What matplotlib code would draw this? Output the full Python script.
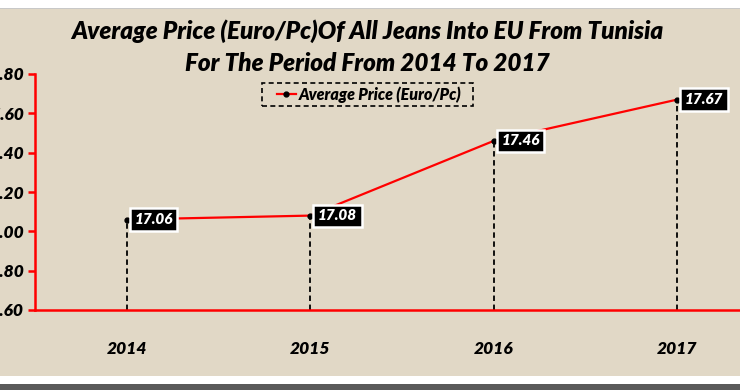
import matplotlib
matplotlib.use("Agg")
import matplotlib.pyplot as plt
from matplotlib.patches import Rectangle

years = ["2014", "2015", "2016", "2017"]
avg_price = [17.06, 17.08, 17.46, 17.67]
y_ticks = [16.60, 16.80, 17.00, 17.20, 17.40, 17.60, 17.80]
series_name = "Average Price (Euro/Pc)"
title = "Average Price (Euro/Pc)Of All Jeans Into EU From Tunisia\nFor The Period From 2014 To 2017"

FONT = ["Lato", "DejaVu Sans"]
plt.rcParams['font.family'] = FONT
WEIGHT = "heavy"

W, H = 740, 390
fig = plt.figure(figsize=(W / 100, H / 100), dpi=100)
fig.patch.set_facecolor("white")

# background panel
fig.add_artist(Rectangle((0, 1 - 376 / H), 1, (376 - 9) / H, transform=fig.transFigure,
                         facecolor="#e1d8c6", edgecolor="none", zorder=0))
fig.add_artist(Rectangle((0, 1 - 9 / H), 1, 1.2 / H, transform=fig.transFigure,
                         facecolor="#c8c8c8", edgecolor="none", zorder=0))
fig.add_artist(Rectangle((0, 0), 1, 6 / H, transform=fig.transFigure,
                         facecolor="#5a5a5a", edgecolor="none", zorder=0))

ax = fig.add_axes([35 / W, 80 / H, 734 / W, 236 / H])
ax.set_facecolor("none")

x = list(range(len(years)))
ax.plot(x, avg_price, color="#ff0000", lw=1.6, marker="o", markersize=3.5,
        markerfacecolor="black", markeredgecolor="black", zorder=3, label=series_name)
ax.vlines(x, y_ticks[0], avg_price, colors="black", linestyles=(0, (3, 2)), lw=1.3, zorder=2)

for xi, v in zip(x, avg_price):
    ax.annotate(f"{v:.2f}", (xi, v), xytext=(5.5, 0), textcoords="offset points",
                ha="left", va="center", color="white", fontsize=11, fontweight=WEIGHT,
                fontstyle="italic",
                bbox=dict(boxstyle="square,pad=0.3", fc="black", ec="white", lw=1.8),
                zorder=5)

ax.set_xlim(-0.5, len(years) - 0.5)
ax.set_ylim(y_ticks[0], y_ticks[-1])
ax.set_yticks(y_ticks)
ax.set_yticklabels([f"{t:.2f}" for t in y_ticks])
ax.set_xticks(x)
ax.set_xticklabels(years)

for s in ["top", "right"]:
    ax.spines[s].set_visible(False)
for s in ["left", "bottom"]:
    ax.spines[s].set_color("#ff0000")
    ax.spines[s].set_linewidth(1.8)

ax.tick_params(axis="y", colors="#ff0000", length=5, width=1.8, pad=3, labelcolor="black")
ax.tick_params(axis="x", length=0, pad=22, labelcolor="black")
for lab in ax.get_yticklabels() + ax.get_xticklabels():
    lab.set_fontweight(WEIGHT)
    lab.set_fontstyle("italic")
    lab.set_fontsize(12.5)

fig.text(367 / W, 1 - 47 / H, title, ha="center", va="center", fontsize=17.5,
         fontweight=WEIGHT, fontstyle="italic", linespacing=1.5)

leg = ax.legend(loc="center", bbox_to_anchor=(369 / W, 1 - 94.5 / H),
                bbox_transform=fig.transFigure, frameon=False,
                prop=dict(family=FONT, weight=WEIGHT, style="italic", size=11.5),
                handlelength=1.2, handletextpad=0.15, borderpad=0.3, borderaxespad=0)
fig.add_artist(Rectangle((262 / W, 1 - 106 / H), 211 / W, 23 / H, transform=fig.transFigure,
                         facecolor="none", edgecolor="black", lw=1.2,
                         linestyle=(0, (3, 2)), zorder=4))

fig.savefig("out.png", dpi=100, facecolor=fig.get_facecolor())
